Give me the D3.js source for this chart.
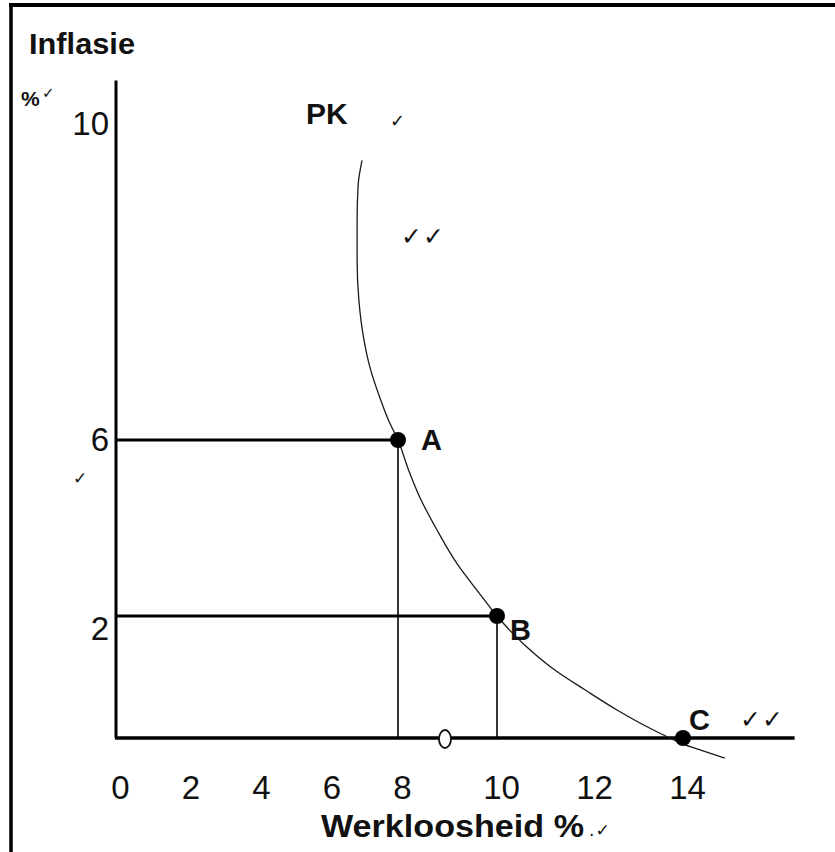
<!DOCTYPE html>
<html>
<head>
<meta charset="utf-8">
<script src="https://cdn.jsdelivr.net/npm/d3@7"></script>
<style>
  body { margin: 0; background: #fff; }
  svg { display: block; }
  text { font-family: "Liberation Sans", Arial, sans-serif; fill: #111; }
  .bold { font-weight: bold; }
  .tick text { font-size: 33px; }
  .chk { font-family: "DejaVu Sans", sans-serif; }
</style>
</head>
<body>
<div id="chart"></div>
<script>
// tick values on both axes
var xTicks = [0, 2, 4, 6, 8, 10, 12, 14];
var yTicks = [2, 6, 10];
var xMax = 16.4;   // end of the werkloosheid axis
var yMax = 10.55;  // top of the inflasie axis

// named points on the Phillips curve (werkloosheid %, inflasie %)
var pointNames = ['A', 'B', 'C'];
var pointU = [8, 10, 14];
var pointInfl = [6, 2, 0];

// PK curve
var pkU    = [6.98, 6.87, 6.84, 6.84, 6.89, 7.01, 7.21, 7.49, 7.74, 8.0, 8.20, 8.44, 8.79, 9.21, 9.62, 10.0, 10.60, 11.25, 11.89, 12.58, 13.29, 13.66, 14.0, 14.43, 14.9];
var pkInfl = [9.54, 9.23, 8.78, 8.28, 7.77, 7.33, 6.91, 6.53, 6.24, 6.0, 5.36, 4.70, 3.95, 3.16, 2.55, 2.0, 1.52, 1.11, 0.79, 0.46, 0.16, 0.02, -0.10, -0.21, -0.33];

var width = 835, height = 852;

var svg = d3.select('#chart').append('svg')
    .attr('width', width)
    .attr('height', height);

// the sketch is not drawn to scale, so use piecewise scales
var x = d3.scaleLinear().domain([0, 8, 10, 14]).range([116, 398, 497, 683]);
var y = d3.scaleLinear().domain([0, 2, 6, 10]).range([738, 616, 440, 124]);

// frame (top and left edge of the scanned box)
svg.append('line').attr('x1', 9).attr('x2', width).attr('y1', 5).attr('y2', 5)
    .attr('stroke', '#000').attr('stroke-width', 4);
svg.append('line').attr('x1', 11).attr('x2', 11).attr('y1', 3).attr('y2', height)
    .attr('stroke', '#000').attr('stroke-width', 3.5);

// guide lines to A and B
var pts = pointNames.map(function (n, i) {
    return { name: n, u: pointU[i], infl: pointInfl[i] };
});
var guides = pts.filter(function (d) { return d.infl > 0; });

svg.selectAll('line.hguide').data(guides).enter().append('line')
    .attr('class', 'hguide')
    .attr('x1', x(0)).attr('x2', function (d) { return x(d.u); })
    .attr('y1', function (d) { return y(d.infl); })
    .attr('y2', function (d) { return y(d.infl); })
    .attr('stroke', '#000').attr('stroke-width', 3);

svg.selectAll('line.vguide').data(guides).enter().append('line')
    .attr('class', 'vguide')
    .attr('x1', function (d) { return x(d.u); })
    .attr('x2', function (d) { return x(d.u); })
    .attr('y1', function (d) { return y(d.infl); })
    .attr('y2', y(0))
    .attr('stroke', '#000').attr('stroke-width', 1.6);

// axes lines
svg.append('line').attr('x1', x(0)).attr('x2', x(0)).attr('y1', y(yMax)).attr('y2', y(0))
    .attr('stroke', '#000').attr('stroke-width', 3);
svg.append('line').attr('x1', x(0) - 1).attr('x2', x(xMax)).attr('y1', y(0)).attr('y2', y(0))
    .attr('stroke', '#000').attr('stroke-width', 3.5);

// tick labels
var gx = svg.append('g')
    .attr('transform', 'translate(0,' + y(0) + ')')
    .call(d3.axisBottom(x).tickValues(xTicks).tickSize(0).tickPadding(38));
gx.select('.domain').remove();
gx.selectAll('text').attr('dx', 4).attr('fill', '#111');

var gy = svg.append('g')
    .attr('transform', 'translate(' + x(0) + ',0)')
    .call(d3.axisLeft(y).tickValues(yTicks).tickSize(0));
gy.select('.domain').remove();
gy.selectAll('text').attr('x', -7).attr('fill', '#111')
    .attr('dy', function (d) { return d === 2 ? '0.7em' : '0.32em'; });

// PK curve
var curveData = pkU.map(function (u, i) { return [u, pkInfl[i]]; });
var line = d3.line()
    .x(function (d) { return x(d[0]); })
    .y(function (d) { return y(d[1]); })
    .curve(d3.curveMonotoneY);
svg.append('path').datum(curveData)
    .attr('d', line)
    .attr('fill', 'none')
    .attr('stroke', '#1a1a1a')
    .attr('stroke-width', 1.3);

// "0" written on the axis
svg.append('ellipse').attr('cx', 445).attr('cy', 739).attr('rx', 6).attr('ry', 9)
    .attr('fill', '#fff').attr('stroke', '#111').attr('stroke-width', 1.8);

// points
svg.selectAll('circle.pt').data(pts).enter().append('circle')
    .attr('class', 'pt')
    .attr('cx', function (d) { return x(d.u); })
    .attr('cy', function (d) { return y(d.infl); })
    .attr('r', 8)
    .attr('fill', '#000');

var labelOffset = { A: [23, 10], B: [13, 24], C: [6, -8] };
svg.selectAll('text.pt').data(pts).enter().append('text')
    .attr('class', 'pt bold')
    .attr('x', function (d) { return x(d.u) + labelOffset[d.name][0]; })
    .attr('y', function (d) { return y(d.infl) + labelOffset[d.name][1]; })
    .attr('font-size', 29)
    .text(function (d) { return d.name; });

// titles
svg.append('text').attr('class', 'bold').attr('x', 29).attr('y', 54)
    .attr('font-size', 30).attr('textLength', 106).attr('lengthAdjust', 'spacingAndGlyphs')
    .text('Inflasie');
svg.append('text').attr('class', 'bold').attr('x', 21).attr('y', 106)
    .attr('font-size', 21).text('%');
svg.append('text').attr('class', 'bold').attr('x', 306).attr('y', 124)
    .attr('font-size', 30).text('PK');
svg.append('text').attr('class', 'bold').attr('x', 321).attr('y', 837)
    .attr('font-size', 31).attr('textLength', 263).attr('lengthAdjust', 'spacingAndGlyphs')
    .text('Werkloosheid %');

// marking ticks
var checks = [
    { x: 42, y: 98, s: 15, t: '\u2713' },
    { x: 390, y: 127, s: 18, t: '\u2713' },
    { x: 401, y: 245, s: 25, t: '\u2713\u2713' },
    { x: 73, y: 484, s: 17, t: '\u2713' },
    { x: 740, y: 728, s: 25, t: '\u2713\u2713' },
    { x: 589, y: 836, s: 17, t: '.\u2713' }
];
svg.selectAll('text.chk').data(checks).enter().append('text')
    .attr('class', 'chk')
    .attr('x', function (d) { return d.x; })
    .attr('y', function (d) { return d.y; })
    .attr('font-size', function (d) { return d.s; })
    .attr('letter-spacing', 1)
    .text(function (d) { return d.t; });
</script>
</body>
</html>
